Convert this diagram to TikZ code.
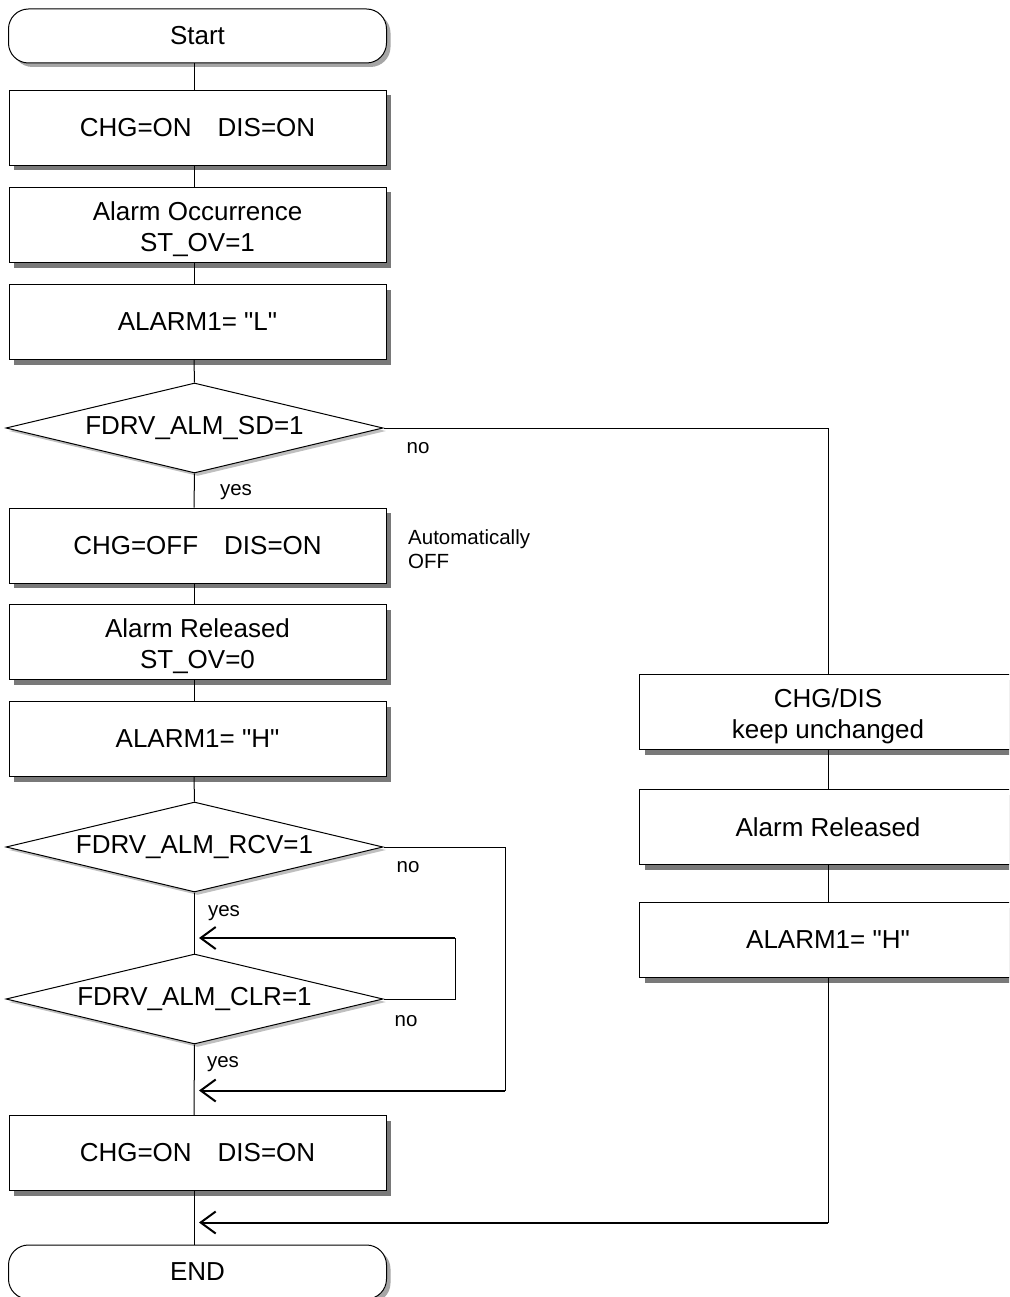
\documentclass[tikz,border=0pt]{standalone}
\usepackage{fontspec}
\setmainfont{Liberation Sans}[Ligatures=TeXOff]
\usetikzlibrary{shapes.geometric,shadows,arrows.meta}
\begin{document}
\begin{tikzpicture}[x=1pt,y=-1pt,
  every node/.style={font=\fontsize{26}{31}\selectfont},
  thin line/.style={line width=1pt, draw=black},
  arrowline/.style={line width=2pt, -{Straight Barb[length=15pt,width=22pt]}},
  proc/.style={draw, line width=1pt, fill=white, minimum width=377pt, minimum height=75pt,
    inner sep=0pt, align=center,
    drop shadow={shadow xshift=5pt, shadow yshift=-5pt, fill=gray!95!black, opacity=1}},
  twoline/.style={text height=59pt},
  term/.style={draw, line width=1pt, fill=white, minimum width=378pt, minimum height=54pt,
    inner sep=0pt, rounded corners=20pt,
    drop shadow={shadow xshift=4pt, shadow yshift=-4pt, fill=gray, opacity=0.7}},
  dec/.style={draw, line width=1pt, fill=white, diamond, aspect=4.2, minimum width=377pt,
    minimum height=90pt, inner sep=0pt,
    drop shadow={shadow xshift=3pt, shadow yshift=-3pt, fill=gray, opacity=0.5}},
  lbl/.style={font=\fontsize{20.5}{24}\selectfont, inner sep=0pt}
]
\useasboundingbox (0,0) rectangle (1009,1297);
\clip (0,0) rectangle (1009,1297);

\coordinate (col) at (194,0);
\coordinate (rcol) at (828,0);

\node[term] (start) at (197.5,36) {Start};
\node[proc] (b1) at (197.5,128) {CHG=ON\quad DIS=ON};
\node[proc, twoline] (b2) at (197.5,225) {Alarm Occurrence\\ST\_OV=1};
\node[proc] (b3) at (197.5,322) {ALARM1= "L"};
\node[dec] (d1) at (194.5,428) {FDRV\_ALM\_SD=1};
\node[proc] (b4) at (197.5,545.5) {CHG=OFF\quad DIS=ON};
\node[proc, twoline] (b5) at (197.5,642) {Alarm Released\\ST\_OV=0};
\node[proc] (b6) at (197.5,739) {ALARM1= "H"};
\node[dec] (d2) at (194.5,847) {FDRV\_ALM\_RCV=1};
\node[dec] (d3) at (194.5,999) {FDRV\_ALM\_CLR=1};
\node[proc] (b7) at (197.5,1153) {CHG=ON\quad DIS=ON};
\node[term] (endn) at (197.5,1272) {END};

\node[proc, twoline] (r1) at (828,712) {CHG/DIS\\keep unchanged};
\node[proc] (r2) at (828,827) {Alarm Released};
\node[proc] (r3) at (828,940) {ALARM1= "H"};

% labels
\node[lbl] (no1) at (418,448) {no};
\node[lbl] (yes1) at (236,492) {yes};
\node[lbl, anchor=west, align=left] (auto) at (408,549) {Automatically\\OFF};
\node[lbl] (no2) at (408,867) {no};
\node[lbl] (yes2) at (224,913) {yes};
\node[lbl] (no3) at (406,1021) {no};
\node[lbl] (yes3) at (223,1064) {yes};

% coordinates for branch returns
\coordinate (j1) at (199,938);
\coordinate (j2) at (199,1090.5);
\coordinate (j3) at (199,1222.5);
\coordinate (c1) at (455,938);
\coordinate (c2) at (505,1090.5);
\coordinate (c3) at (828,1222.5);

% main column
\draw[thin line] (start.south -| col) -- (b1.north -| col);
\draw[thin line] (b1.south -| col) -- (b2.north -| col);
\draw[thin line] (b2.south -| col) -- (b3.north -| col);
\draw[thin line] (b3.south -| col) -- (d1.north);
\draw[thin line] (d1.south) -- (b4.north -| col);
\draw[thin line] (b4.south -| col) -- (b5.north -| col);
\draw[thin line] (b5.south -| col) -- (b6.north -| col);
\draw[thin line] (b6.south -| col) -- (d2.north);
\draw[thin line] (d2.south) -- (d3.north);
\draw[thin line] (d3.south) -- (b7.north -| col);
\draw[thin line] (b7.south -| col) -- (endn.north -| col);

% right column
\draw[thin line] (d1.east) -| (r1.north -| rcol);
\draw[thin line] (r1.south -| rcol) -- (r2.north -| rcol);
\draw[thin line] (r2.south -| rcol) -- (r3.north -| rcol);
\draw[thin line] (r3.south -| rcol) -- (c3);
\draw[arrowline] (c3) -- (j3);

% RCV no branch
\draw[thin line] (d2.east) -| (c2);
\draw[arrowline] (c2) -- (j2);

% CLR loop
\draw[thin line] (d3.east) -| (c1);
\draw[arrowline] (c1) -- (j1);
\end{tikzpicture}
\end{document}
